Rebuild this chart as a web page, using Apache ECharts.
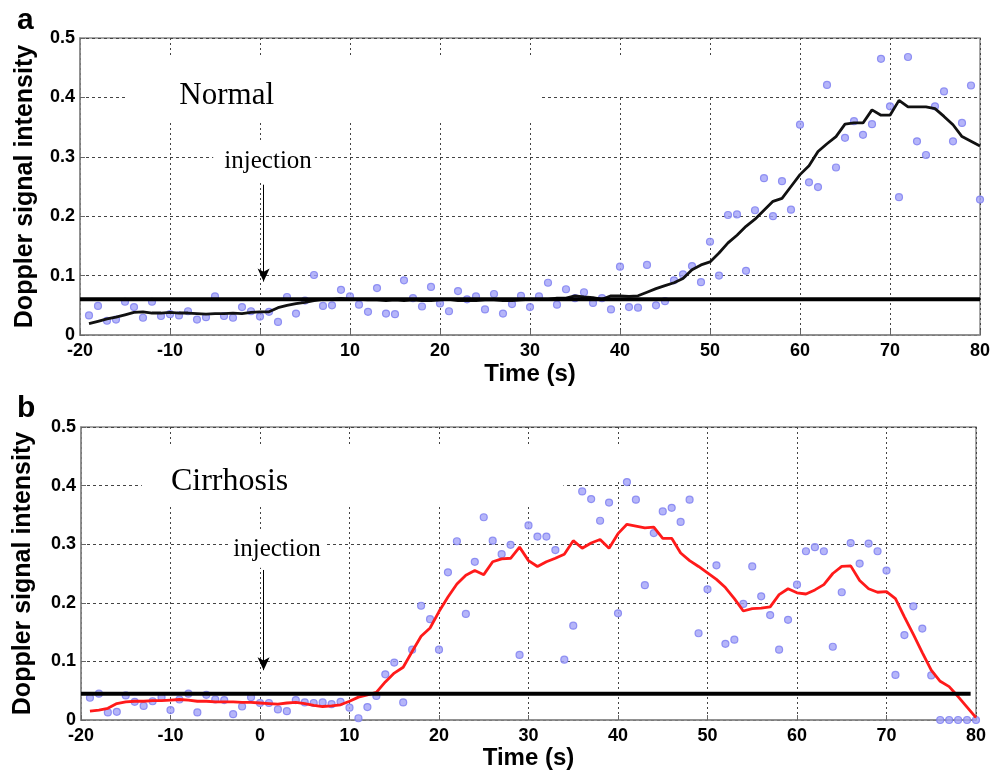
<!DOCTYPE html>
<html><head><meta charset="utf-8">
<script src="https://cdn.jsdelivr.net/npm/echarts@6/dist/echarts.min.js"></script>
<style>html,body{margin:0;padding:0;background:#fff}#c{width:1003px;height:772px}</style>
</head><body><div id="c"></div>
<script>
const seconds = [-19,-18,-17,-16,-15,-14,-13,-12,-11,-10,
  -9,-8,-7,-6,-5,-4,-3,-2,-1,0,
  1,2,3,4,5,6,7,8,9,10,
  11,12,13,14,15,16,17,18,19,20,
  21,22,23,24,25,26,27,28,29,30,
  31,32,33,34,35,36,37,38,39,40,
  41,42,43,44,45,46,47,48,49,50,
  51,52,53,54,55,56,57,58,59,60,
  61,62,63,64,65,66,67,68,69,70,
  71,72,73,74,75,76,77,78,79,80];

const normalDots = [.033,.049,.024,.026,.056,.047,.029,.056,.032,.035,
  .033,.040,.026,.030,.065,.032,.029,.047,.040,.031,
  .039,.022,.064,.036,.058,.101,.049,.050,.076,.065,
  .051,.039,.079,.036,.035,.092,.062,.048,.081,.053,
  .040,.074,.060,.065,.043,.069,.036,.052,.066,.047,
  .065,.088,.051,.077,.062,.072,.054,.062,.043,.115,
  .047,.046,.118,.050,.057,.092,.102,.116,.089,.157,
  .100,.202,.203,.108,.210,.264,.200,.259,.211,.354,
  .257,.249,.421,.282,.332,.360,.337,.355,.465,.385,
  .232,.468,.326,.303,.385,.410,.326,.357,.420,.228];

const normalSmooth = [.019,.023,.027,.030,.034,.038,.039,.037,.037,.038,
  .037,.037,.036,.035,.036,.036,.037,.036,.038,.039,
  .039,.046,.050,.053,.055,.058,.060,.060,.061,.060,
  .060,.059,.059,.058,.059,.058,.059,.058,.058,.059,
  .060,.058,.058,.058,.059,.059,.058,.058,.059,.060,
  .060,.060,.062,.062,.066,.064,.063,.060,.066,.066,
  .065,.066,.072,.078,.083,.088,.095,.110,.118,.123,
  .138,.155,.168,.183,.195,.210,.225,.230,.250,.270,
  .285,.309,.322,.334,.355,.357,.357,.379,.370,.370,
  .395,.384,.384,.384,.381,.368,.354,.334,.326,.318];

const cirrhosisDots = [.038,.045,.013,.014,.042,.031,.024,.032,.039,.017,
  .035,.045,.013,.043,.035,.034,.010,.023,.039,.029,
  .029,.018,.015,.034,.030,.029,.030,.027,.031,.021,
  .003,.022,.041,.078,.098,.030,.120,.195,.172,.120,
  .252,.305,.181,.270,.346,.306,.283,.299,.111,.332,
  .313,.313,.290,.103,.161,.390,.377,.340,.371,.182,
  .406,.376,.230,.319,.356,.362,.338,.376,.148,.223,
  .264,.130,.137,.198,.262,.211,.179,.120,.171,.231,
  .288,.295,.288,.125,.218,.302,.267,.301,.288,.255,
  .077,.145,.194,.156,.076,0,0,0,0,0];

const cirrhosisSmooth = [.015,.017,.020,.028,.031,.032,.032,.033,.033,.034,
  .035,.034,.032,.032,.031,.031,.031,.030,.030,.029,
  .028,.027,.029,.030,.028,.025,.023,.024,.026,.032,
  .039,.043,.047,.065,.080,.090,.117,.143,.157,.185,
  .210,.232,.247,.255,.248,.270,.275,.276,.295,.272,
  .262,.270,.276,.283,.306,.293,.302,.308,.293,.318,
  .334,.331,.328,.329,.310,.310,.285,.272,.262,.251,
  .240,.226,.207,.186,.190,.191,.193,.214,.224,.217,
  .215,.222,.231,.250,.262,.263,.238,.224,.218,.219,
  .207,.176,.146,.115,.085,.066,.057,.040,.022,.004];

const baselineNormal = 0.060;
const baselineCirrhosis = 0.045;
const baselineSpanNormal = [-20, 80];
const baselineSpanCirrhosis = [-20, 79.4];

const xTickLabels = ['-20','-10','0','10','20','30','40','50','60','70','80'];
const yTickLabels = ['0','0.1','0.2','0.3','0.4','0.5'];
const panelNames = ['Normal', 'Cirrhosis'];
const panelLetters = ['a', 'b'];

const pairs = (xs, ys) => xs.map((x, i) => [x, ys[i]]);

const SANS = 'Liberation Sans';
const SERIF = 'Liberation Serif';
const tickFont = {fontFamily: SANS, fontWeight: 'bold', fontSize: 18, color: '#000'};
const nameFont = {fontFamily: SANS, fontWeight: 'bold', fontSize: 24, color: '#000'};

function xAxisCfg(gi, gap) {
  return {
    type: 'value', gridIndex: gi, min: -20, max: 80, interval: 10,
    name: 'Time (s)', nameLocation: 'middle', nameGap: gap, nameTextStyle: nameFont,
    axisLine: {show: true, onZero: false, lineStyle: {color: '#8a8a8a', width: 1.5}},
    axisTick: {show: true, inside: true, length: 5, lineStyle: {color: '#666'}},
    axisLabel: Object.assign({margin: 7, formatter: v => xTickLabels[Math.round((v + 20) / 10)]}, tickFont),
    splitLine: {show: true, lineStyle: {color: '#444', type: [2, 3], width: 1}}
  };
}
function yAxisCfg(gi, gap) {
  return {
    type: 'value', gridIndex: gi, min: 0, max: 0.5, interval: 0.1,
    name: 'Doppler signal intensity', nameLocation: 'middle', nameGap: gap,
    nameTextStyle: Object.assign({}, nameFont, {fontSize: 25}),
    axisLine: {show: true, onZero: false, lineStyle: {color: '#8a8a8a', width: 1.5}},
    axisTick: {show: true, inside: true, length: 5, lineStyle: {color: '#666'}},
    axisLabel: Object.assign({margin: 5, formatter: v => yTickLabels[Math.round(v * 10)]}, tickFont),
    splitLine: {show: true, lineStyle: {color: '#444', type: [3, 3], width: 1}}
  };
}

const dotStyle = {color: '#a3a3f7', borderColor: '#7b7cf0', borderWidth: 1.2};

function whiteBoxes(boxes) {
  return {
    silent: true,
    itemStyle: {color: '#ffffff'},
    data: boxes.map(b => [{coord: [b[0], b[1]]}, {coord: [b[2], b[3]]}])
  };
}
function textMarks(items) {
  return {
    silent: true, symbol: 'circle', symbolSize: 1,
    itemStyle: {color: 'rgba(0,0,0,0)'},
    data: items.map(t => ({name: t.text, coord: t.at, label: {
      show: true, position: 'inside', formatter: '{b}',
      fontFamily: SERIF, fontSize: t.size, color: '#000'}}))
  };
}
function arrowMark(x, y1, y2) {
  return {
    silent: true, symbol: ['none', 'arrow'], symbolSize: [9, 13],
    label: {show: false},
    lineStyle: {color: '#000', width: 1, type: 'solid'},
    data: [[{coord: [x, y1]}, {coord: [x, y2]}]]
  };
}

const option = {
  backgroundColor: '#fff',
  animation: false,
  title: [
    {text: panelLetters[0], left: 17, top: 6, padding: 0, textStyle: {fontFamily: SANS, fontWeight: 'bold', fontSize: 30, color: '#000'}},
    {text: panelLetters[1], left: 17, top: 394, padding: 0, textStyle: {fontFamily: SANS, fontWeight: 'bold', fontSize: 30, color: '#000'}}
  ],
  grid: [
    {left: 80, top: 38, width: 900, height: 297, show: true, borderColor: '#8a8a8a', borderWidth: 1.5, backgroundColor: '#fff'},
    {left: 81, top: 427, width: 895, height: 293, show: true, borderColor: '#8a8a8a', borderWidth: 1.5, backgroundColor: '#fff'}
  ],
  xAxis: [xAxisCfg(0, 27), xAxisCfg(1, 26)],
  yAxis: [yAxisCfg(0, 42), yAxisCfg(1, 45)],
  series: [
    {
      type: 'scatter', xAxisIndex: 0, yAxisIndex: 0, symbolSize: 7,
      itemStyle: dotStyle, data: pairs(seconds, normalDots), z: 2,
      markArea: whiteBoxes([[-14.7, 0.467, 31.2, 0.359], [31.2, 0.467, 57.5, 0.404], [-5.2, 0.324, 6.1, 0.258]])
    },
    {
      type: 'line', xAxisIndex: 0, yAxisIndex: 0, showSymbol: false, z: 3,
      lineStyle: {color: '#111', width: 2.8}, data: pairs(seconds, normalSmooth)
    },
    {
      type: 'line', xAxisIndex: 0, yAxisIndex: 0, showSymbol: false, z: 4,
      lineStyle: {color: '#000', width: 4},
      data: [[baselineSpanNormal[0], baselineNormal], [baselineSpanNormal[1], baselineNormal]],
      markPoint: textMarks([{text: panelNames[0], at: [-3.7, 0.402], size: 31}, {text: 'injection', at: [0.9, 0.292], size: 25}]),
      markLine: arrowMark(0.4, 0.253, 0.09)
    },
    {
      type: 'scatter', xAxisIndex: 1, yAxisIndex: 1, symbolSize: 7,
      itemStyle: dotStyle, data: pairs(seconds, cirrhosisDots), z: 2,
      markArea: whiteBoxes([[-13.2, 0.467, 33.9, 0.365], [33.9, 0.467, 44, 0.41], [-3.3, 0.322, 7.3, 0.26]])
    },
    {
      type: 'line', xAxisIndex: 1, yAxisIndex: 1, showSymbol: false, z: 3,
      lineStyle: {color: '#ff1a1a', width: 2.8}, data: pairs(seconds, cirrhosisSmooth)
    },
    {
      type: 'line', xAxisIndex: 1, yAxisIndex: 1, showSymbol: false, z: 4,
      lineStyle: {color: '#000', width: 4},
      data: [[baselineSpanCirrhosis[0], baselineCirrhosis], [baselineSpanCirrhosis[1], baselineCirrhosis]],
      markPoint: textMarks([{text: panelNames[1], at: [-3.4, 0.407], size: 32}, {text: 'injection', at: [1.9, 0.291], size: 25}]),
      markLine: arrowMark(0.4, 0.256, 0.085)
    }
  ]
};

const chart = echarts.init(document.getElementById('c'), null, {renderer: 'canvas'});
chart.setOption(option);
</script>
</body></html>
